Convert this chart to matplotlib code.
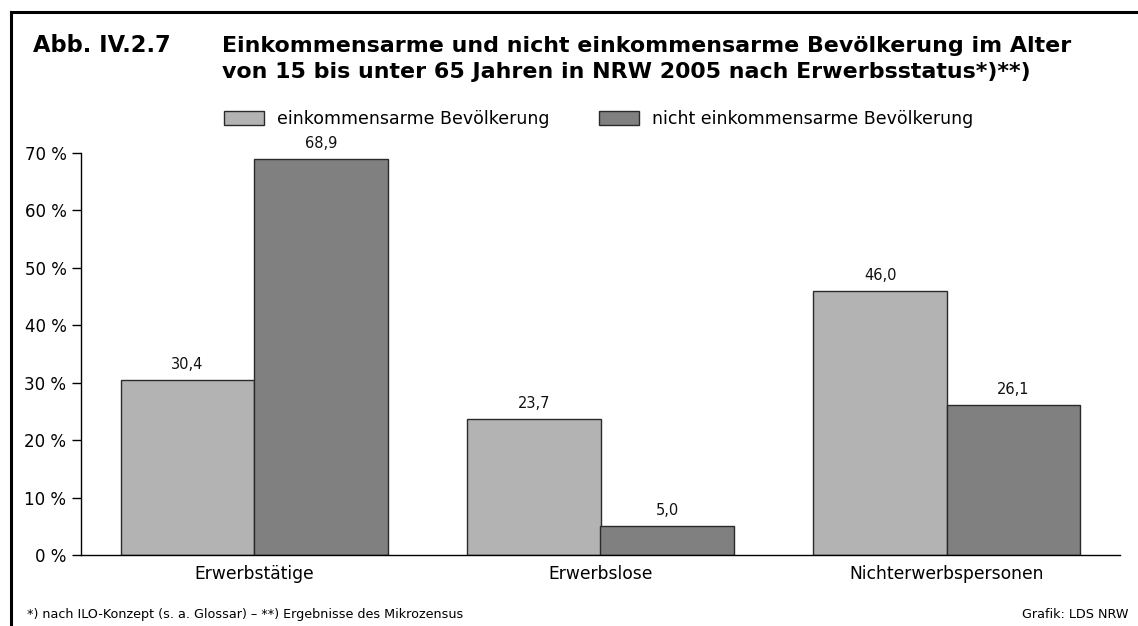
import matplotlib
matplotlib.use("Agg")
import matplotlib.pyplot as plt
from matplotlib.lines import Line2D
import numpy as np

plt.rcParams['font.family'] = ['DejaVu Sans']

categories = ["Erwerbstätige", "Erwerbslose", "Nichterwerbspersonen"]
series_names = ["einkommensarme Bevölkerung", "nicht einkommensarme Bevölkerung"]
arm = [30.4, 23.7, 46.0]
nicht_arm = [68.9, 5.0, 26.1]
yticks = [0, 10, 20, 30, 40, 50, 60, 70]
ytick_labels = ["0 %", "10 %", "20 %", "30 %", "40 %", "50 %", "60 %", "70 %"]

W, H = 1138, 626
fig = plt.figure(figsize=(W / 100, H / 100), dpi=100)

def fx(x):
    return x / W

def fy(y):
    return 1 - y / H

# outer frame (left and top lines)
fig.add_artist(Line2D([fx(11), fx(11)], [fy(12), 0], color="black", lw=2.2))
fig.add_artist(Line2D([fx(11), 1], [fy(12), fy(12)], color="black", lw=2.2))

ax = fig.add_axes([fx(81), fy(555), fx(1120) - fx(81), fy(153) - fy(555)])

x = np.arange(len(categories))
w = 0.385
light = "#b3b3b3"
dark = "#808080"
edge = "#2a2a2a"
b1 = ax.bar(x - w / 2, arm, w, color=light, edgecolor=edge, linewidth=1.0, label=series_names[0])
b2 = ax.bar(x + w / 2, nicht_arm, w, color=dark, edgecolor=edge, linewidth=1.0, label=series_names[1])

for bars, vals in ((b1, arm), (b2, nicht_arm)):
    for rect, v in zip(bars, vals):
        ax.annotate(f"{v:.1f}".replace(".", ","),
                    (rect.get_x() + rect.get_width() / 2, rect.get_height()),
                    xytext=(0, 8), textcoords="offset points",
                    ha="center", va="baseline", fontsize=10.5, color="#111111")

ax.set_xlim(-0.5, 2.5)
ax.set_ylim(0, 70)
ax.set_yticks(yticks)
ax.set_yticklabels(ytick_labels, fontsize=12)
ax.set_xticks(x)
ax.set_xticklabels(categories, fontsize=12.3)
ax.tick_params(axis="x", length=0, pad=7)
ax.tick_params(axis="y", direction="out", length=6.5, width=1, pad=4)
for s in ("top", "right"):
    ax.spines[s].set_visible(False)
ax.spines["left"].set_linewidth(1)
ax.spines["bottom"].set_linewidth(1)
ax.patch.set_alpha(0)

# title
fig.text(fx(33), fy(52), "Abb. IV.2.7", fontsize=16.3, fontweight="bold", ha="left", va="baseline")
fig.text(fx(222), fy(52), "Einkommensarme und nicht einkommensarme Bevölkerung im Alter",
         fontsize=15.9, fontweight="bold", ha="left", va="baseline")
fig.text(fx(222), fy(78), "von 15 bis unter 65 Jahren in NRW 2005 nach Erwerbsstatus*)**)",
         fontsize=15.9, fontweight="bold", ha="left", va="baseline")

# legend
fig.legend(handles=[b1, b2], labels=series_names, loc="upper left",
           bbox_to_anchor=(fx(224), fy(110)), ncol=2, frameon=False,
           fontsize=12.5, handlelength=2.3, handleheight=0.8,
           handletextpad=0.75, columnspacing=2.85, borderpad=0, borderaxespad=0)

# footer
fig.text(fx(27), fy(618), "*) nach ILO-Konzept (s. a. Glossar) – **) Ergebnisse des Mikrozensus",
         fontsize=9.2, ha="left", va="baseline")
fig.text(fx(1128), fy(618), "Grafik: LDS NRW", fontsize=9.2, ha="right", va="baseline")

fig.savefig("out.png", dpi=100, facecolor="white")
